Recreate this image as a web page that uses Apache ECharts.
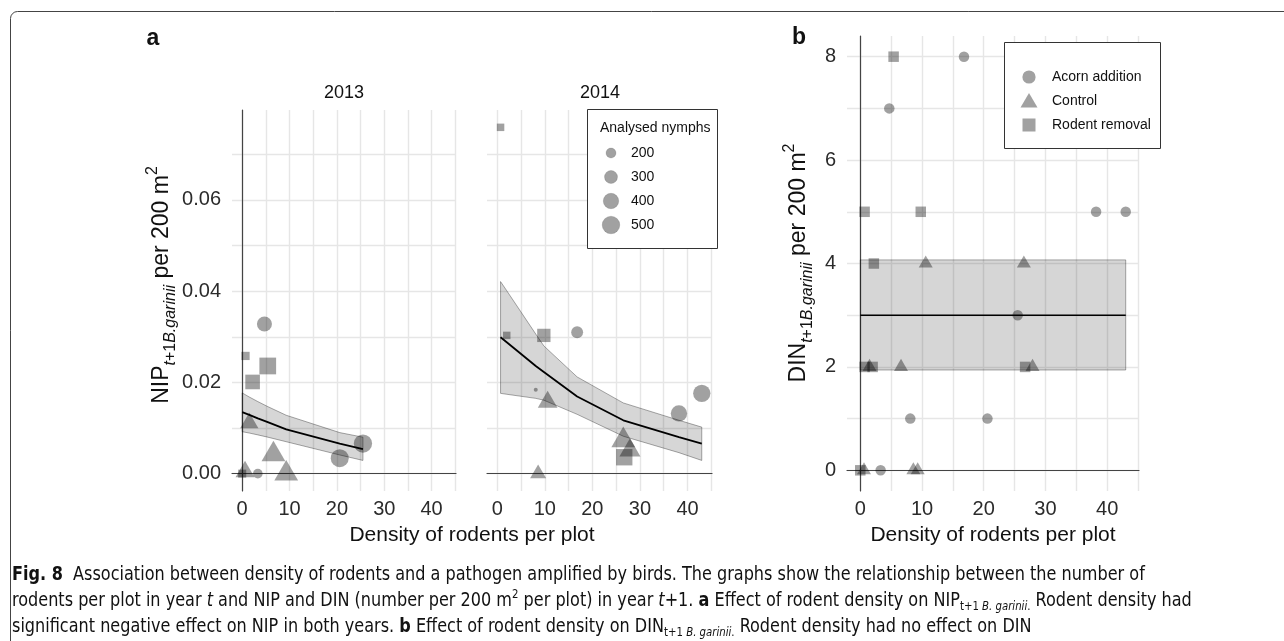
<!DOCTYPE html>
<html>
<head>
<meta charset="utf-8">
<script src="https://cdn.jsdelivr.net/npm/echarts@6/dist/echarts.min.js"></script>
<style>
  html, body { margin: 0; padding: 0; background: #fff; }
  #chart { width: 1284px; height: 641px; }
</style>
</head>
<body>
<div id="chart"></div>
<script>
// ---- axis ticks ----
const xLabelTicks = [0, 10, 20, 30, 40];
const xGridTicks = [0, 5, 10, 15, 20, 25, 30, 35, 40, 45];
const nipLabelTicks = [0, 0.02, 0.04, 0.06];
const nipGridTicks = [0, 0.01, 0.02, 0.03, 0.04, 0.05, 0.06, 0.07];
const dinLabelTicks = [0, 2, 4, 6, 8];
const dinGridTicks = [0, 1, 2, 3, 4, 5, 6, 7, 8];
const facetYears = ['2013', '2014'];
const treatments = ['Acorn addition', 'Control', 'Rodent removal'];
const sizeLegendValues = [200, 300, 400, 500];

// ---- panel a, 2013: rodent density (x), NIP (y), analysed nymphs (n) ----
const acorn2013X = [4.7, 3.3, 20.6, 25.5];
const acorn2013Y = [0.0328, 0.0, 0.0034, 0.0066];
const acorn2013N = [380, 190, 520, 535];
const control2013X = [1.5, 6.6, 9.3, 0.6];
const control2013Y = [0.0111, 0.0042, 0.0, 0.0004];
const control2013N = [300, 470, 470, 320];
const removal2013X = [0.7, 5.4, 2.2, 0.0];
const removal2013Y = [0.0258, 0.0236, 0.0201, 0.0];
const removal2013N = [170, 520, 410, 165];

// fitted NIP and confidence band, 2013
const fit2013X = [0, 1.5, 3.3, 5.4, 9.3, 20.6, 25.5];
const fit2013 = [0.0135, 0.0129, 0.0121, 0.0113, 0.0097, 0.0066, 0.0054];
const upper2013 = [0.0177, 0.0168, 0.0158, 0.0147, 0.0128, 0.0090, 0.0080];
const lower2013 = [0.0092, 0.0089, 0.0085, 0.0080, 0.0070, 0.0041, 0.0029];

// ---- panel a, 2014 ----
const acorn2014X = [16.8, 8.1, 38.2, 43.0];
const acorn2014Y = [0.0310, 0.0184, 0.0132, 0.0176];
const acorn2014N = [260, 80, 440, 485];
const control2014X = [10.6, 8.6, 26.5, 27.9];
const control2014Y = [0.0157, 0.0, 0.0073, 0.0051];
const control2014N = [340, 245, 470, 380];
const removal2014X = [0.7, 2.0, 9.8, 26.7];
const removal2014Y = [0.0759, 0.0303, 0.0303, 0.0036];
const removal2014N = [150, 150, 350, 500];

const fit2014X = [0.7, 2.0, 8.1, 9.8, 16.8, 26.5, 38.2, 43.0];
const fit2014 = [0.0299, 0.0288, 0.0236, 0.0223, 0.0169, 0.0117, 0.0080, 0.0066];
const upper2014 = [0.0421, 0.0401, 0.0306, 0.0280, 0.0212, 0.0155, 0.0117, 0.0102];
const lower2014 = [0.0176, 0.0174, 0.0165, 0.0161, 0.0130, 0.0082, 0.0046, 0.0029];

// ---- panel b: DIN per plot ----
const dinAcornX = [16.8, 4.7, 38.2, 43.0, 25.5, 8.1, 20.6, 3.3];
const dinAcornY = [8, 7, 5, 5, 3, 1, 1, 0];
const dinControlX = [10.6, 26.5, 1.5, 6.6, 27.9, 0.6, 8.6, 9.3];
const dinControlY = [4, 4, 2, 2, 2, 0, 0, 0];
const dinRemovalX = [5.4, 0.7, 9.8, 2.2, 0.7, 2.0, 26.7, 0.0];
const dinRemovalY = [8, 5, 5, 4, 2, 2, 2, 0];

const dinFitX = [0, 43.0];
const dinFit = [3, 3];
const dinUpper = [4.07, 4.07];
const dinLower = [1.94, 1.94];

// ---- styling ----
const POINT = 'rgba(0,0,0,0.37)';
const BAND_FILL = 'rgba(0,0,0,0.16)';
const BAND_EDGE = 'rgba(0,0,0,0.33)';
const GRID = '#e6e6e6';
const AXIS = '#444';
const TXT = '#2b2b2b';
const FONT = "'Liberation Sans', Arial, Helvetica, sans-serif";

// point diameter (px) for a number of analysed nymphs
function diam(n) { return Math.sqrt(Math.max(4, 0.7 * n - 40)); }

function zip(xs, ys, ns) { return xs.map((x, i) => ns ? [x, ys[i], ns[i]] : [x, ys[i]]); }

function shapeItems(data, shape, fixed) {
  return data.map(v => {
    const d = fixed || diam(v[2]);
    if (shape === 'triangle') {
      const w = d * (fixed ? 1 : 1.4), h = w * 0.866;
      return { value: v, symbolSize: [w, h], symbolOffset: [0, -h / 6] };
    }
    if (shape === 'rect') return { value: v, symbolSize: fixed ? d : d * 0.93 };
    return { value: v, symbolSize: d };
  });
}

function scatter(name, data, shape, gi, fixed) {
  return {
    name, type: 'scatter', xAxisIndex: gi, yAxisIndex: gi, symbol: shape,
    data: shapeItems(data, shape, fixed),
    itemStyle: { color: POINT, opacity: 1 },
    emphasis: { disabled: true }, silent: true, z: 2
  };
}

function band(xs, up, lo, gi) {
  return {
    type: 'custom', xAxisIndex: gi, yAxisIndex: gi, silent: true, z: 3,
    data: [[xs[0], up[0]]],
    renderItem: (params, api) => {
      const pts = xs.map((x, i) => api.coord([x, up[i]]));
      for (let i = xs.length - 1; i >= 0; i--) pts.push(api.coord([xs[i], lo[i]]));
      return { type: 'polygon', shape: { points: pts },
        style: { fill: BAND_FILL, stroke: BAND_EDGE, lineWidth: 1 } };
    }
  };
}

function fitLine(xs, ys, gi, w) {
  return {
    type: 'line', xAxisIndex: gi, yAxisIndex: gi, data: zip(xs, ys),
    showSymbol: false, silent: true, z: 4,
    lineStyle: { color: '#000', width: w }
  };
}

function xAxis(gi) {
  return {
    type: 'value', gridIndex: gi, min: -2.15, max: 45.15,
    axisLine: { show: true, lineStyle: { color: AXIS, width: 1.2 } },
    axisTick: { show: false, customValues: xGridTicks },
    axisLabel: { customValues: xLabelTicks, color: TXT, fontSize: 20, margin: 8, fontFamily: FONT },
    splitLine: { show: true, lineStyle: { color: GRID, width: 1.4 } },
    minorSplitLine: { show: false }
  };
}

function yAxis(gi, min, max, labels, grid, fmt, showLine, showLabels) {
  return {
    type: 'value', gridIndex: gi, min, max,
    axisLine: { show: showLine, lineStyle: { color: AXIS, width: 1.2 } },
    axisTick: { show: false, customValues: grid },
    axisLabel: { show: showLabels, customValues: labels, color: TXT, fontSize: 20, margin: 11,
      fontFamily: FONT, formatter: fmt },
    splitLine: { show: true, lineStyle: { color: GRID, width: 1.4 } }
  };
}

const nipFmt = v => Number(v).toFixed(2);
const dinFmt = v => String(Math.round(v));

const series = [
  // 2013
  scatter(treatments[0], zip(acorn2013X, acorn2013Y, acorn2013N), 'circle', 0),
  scatter(treatments[1], zip(control2013X, control2013Y, control2013N), 'triangle', 0),
  scatter(treatments[2], zip(removal2013X, removal2013Y, removal2013N), 'rect', 0),
  band(fit2013X, upper2013, lower2013, 0),
  fitLine(fit2013X, fit2013, 0, 1.8),
  // 2014
  scatter(treatments[0], zip(acorn2014X, acorn2014Y, acorn2014N), 'circle', 1),
  scatter(treatments[1], zip(control2014X, control2014Y, control2014N), 'triangle', 1),
  scatter(treatments[2], zip(removal2014X, removal2014Y, removal2014N), 'rect', 1),
  band(fit2014X, upper2014, lower2014, 1),
  fitLine(fit2014X, fit2014, 1, 1.8),
  // DIN
  scatter(treatments[0], zip(dinAcornX, dinAcornY), 'circle', 2, 10.5),
  scatter(treatments[1], zip(dinControlX, dinControlY), 'triangle', 2, 14),
  scatter(treatments[2], zip(dinRemovalX, dinRemovalY), 'rect', 2, 10.5),
  band(dinFitX, dinUpper, dinLower, 2),
  fitLine(dinFitX, dinFit, 2, 1.4)
];

// ---- text and legends ----
const titleRich = {
  m: { fontSize: 23, fontFamily: FONT, fill: '#111', lineHeight: 34 },
  mi: { fontSize: 16, fontFamily: FONT, fill: '#111', fontStyle: 'italic', verticalAlign: 'bottom', lineHeight: 16 },
  s: { fontSize: 16, fontFamily: FONT, fill: '#111', verticalAlign: 'bottom', lineHeight: 16 },
  p: { fontSize: 16, fontFamily: FONT, fill: '#111', verticalAlign: 'top', lineHeight: 16 }
};
function yTitle(x, y, head) {
  return {
    type: 'text', x, y, rotation: Math.PI / 2, silent: true, z: 50,
    style: {
      text: `{m|${head}}{mi|t}{s|+1}{mi|B.garinii}{m| per 200 m}{p|2}`,
      rich: titleRich, align: 'center', verticalAlign: 'middle'
    }
  };
}
function plainText(x, y, text, size, extra) {
  return {
    type: 'text', x, y, silent: true, z: 60,
    style: Object.assign({ text, fontSize: size, fontFamily: FONT, fill: '#111',
      align: 'center', verticalAlign: 'middle' }, extra || {})
  };
}

const legendA = [
  { type: 'rect', shape: { x: 587.5, y: 109.5, width: 130, height: 139 }, z: 50,
    style: { fill: '#fff', stroke: '#333', lineWidth: 1 }, silent: true },
  plainText(600, 128, 'Analysed nymphs', 14, { align: 'left' })
];
sizeLegendValues.forEach((v, i) => {
  const cy = 153 + i * 24;
  legendA.push({ type: 'circle', shape: { cx: 611, cy, r: diam(v) / 2 }, z: 60,
    style: { fill: POINT, stroke: 'rgba(0,0,0,0.12)', lineWidth: 1 }, silent: true });
  legendA.push(plainText(631, cy, String(v), 14, { align: 'left' }));
});

const legendB = [
  { type: 'rect', shape: { x: 1004.5, y: 42.5, width: 156, height: 106 }, z: 50,
    style: { fill: '#fff', stroke: '#333', lineWidth: 1 }, silent: true },
  { type: 'circle', shape: { cx: 1029, cy: 77, r: 6.6 }, style: { fill: POINT }, silent: true, z: 60 },
  { type: 'polygon', shape: { points: [[1029, 93], [1037.5, 107.5], [1020.5, 107.5]] },
    style: { fill: POINT }, silent: true, z: 60 },
  { type: 'rect', shape: { x: 1022.5, y: 118.5, width: 13, height: 13 }, style: { fill: POINT }, silent: true, z: 60 }
];
treatments.forEach((t, i) => legendB.push(plainText(1052, 77 + i * 24, t, 14, { align: 'left' })));

// caption
const CAP_FONT = "'Liberation Sans Narrow', 'DejaVu Sans Condensed', 'Liberation Sans', sans-serif";
const CAP_SIZE = 19;
const capLines = [
  '{b|Fig. 8}  Association between density of rodents and a pathogen amplified by birds. The graphs show the relationship between the number of',
  'rodents per plot in year {i|t} and NIP and DIN (number per 200 m{sup|2} per plot) in year {i|t}+1. {b|a} Effect of rodent density on NIP{sub|t+1 }{subi|B. garinii}{sub|.} Rodent density had',
  'significant negative effect on NIP in both years. {b|b} Effect of rodent density on DIN{sub|t+1 }{subi|B. garinii}{sub|.} Rodent density had no effect on DIN'
];
const capRich = {
  b: { fontWeight: 'bold', fontFamily: CAP_FONT, fontSize: CAP_SIZE, fill: '#111' },
  i: { fontStyle: 'italic', fontFamily: CAP_FONT, fontSize: CAP_SIZE, fill: '#111' },
  sup: { fontFamily: CAP_FONT, fontSize: 12, fill: '#111', verticalAlign: 'top', lineHeight: 12 },
  sub: { fontFamily: CAP_FONT, fontSize: 12, fill: '#111', verticalAlign: 'bottom', lineHeight: 12 },
  subi: { fontFamily: CAP_FONT, fontSize: 12, fontStyle: 'italic', fill: '#111', verticalAlign: 'bottom', lineHeight: 12 }
};
// horizontal squeeze so the first caption line spans the text block width
const ctx = document.createElement('canvas').getContext('2d');
ctx.font = `${CAP_SIZE}px ${CAP_FONT}`;
const plain1 = capLines[0].replace(/\{\w+\|([^}]*)\}/g, '$1');
const capScale = Math.min(1.2, 1125 / ctx.measureText(plain1).width);
const caption = capLines.map((line, i) => ({
  type: 'text', x: 12, y: 575 + i * 26, scaleX: capScale, silent: true, z: 60,
  style: { text: line, rich: capRich, fontFamily: CAP_FONT, fontSize: CAP_SIZE, fill: '#111',
    lineHeight: 24, align: 'left', verticalAlign: 'middle' }
}));

const graphic = [
  { type: 'rect', shape: { x: 10.5, y: 11.5, width: 1400, height: 800, r: 7 },
    style: { fill: 'none', stroke: '#444', lineWidth: 1 }, silent: true, z: -10 },
  plainText(153, 39, 'a', 23, { fontWeight: 'bold' }),
  plainText(799, 38, 'b', 23, { fontWeight: 'bold' }),
  plainText(344, 93, facetYears[0], 18),
  plainText(600, 93, facetYears[1], 18),
  yTitle(162, 285, 'NIP'),
  yTitle(799, 263, 'DIN'),
  plainText(472, 535, 'Density of rodents per plot', 21),
  plainText(993, 535, 'Density of rodents per plot', 21),
  ...legendA, ...legendB, ...caption
];

const chart = echarts.init(document.getElementById('chart'), null, { renderer: 'canvas' });
chart.setOption({
  backgroundColor: '#fff',
  animation: false,
  grid: [
    { left: 232, top: 110, width: 224, height: 381, containLabel: false, outerBoundsMode: 'none' },
    { left: 487, top: 110, width: 225, height: 381, containLabel: false, outerBoundsMode: 'none' },
    { left: 847, top: 36, width: 292, height: 455, containLabel: false, outerBoundsMode: 'none' }
  ],
  xAxis: [xAxis(0), xAxis(1), xAxis(2)],
  yAxis: [
    yAxis(0, -0.0038, 0.0797, nipLabelTicks, nipGridTicks, nipFmt, true, true),
    yAxis(1, -0.0038, 0.0797, nipLabelTicks, nipGridTicks, nipFmt, false, false),
    yAxis(2, -0.4, 8.4, dinLabelTicks, dinGridTicks, dinFmt, true, true)
  ],
  series,
  graphic
});
</script>
</body>
</html>
